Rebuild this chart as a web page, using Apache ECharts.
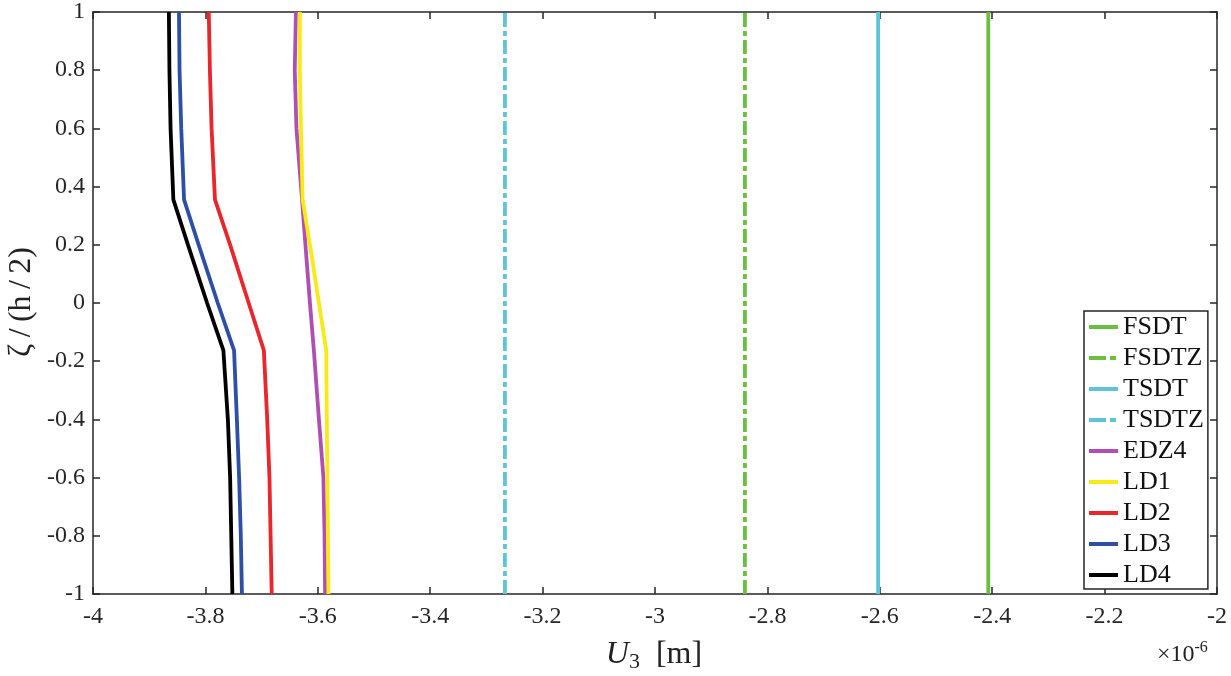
<!DOCTYPE html>
<html><head><meta charset="utf-8">
<script src="https://cdn.jsdelivr.net/npm/echarts@6/dist/echarts.min.js"></script>
<style>html,body{margin:0;padding:0;background:#fff}#c{width:1231px;height:676px}</style>
</head><body><div id="c"></div>
<script>
// x values are in units of 1e-6 m
const xTicks = [-4,-3.8,-3.6,-3.4,-3.2,-3,-2.8,-2.6,-2.4,-2.2,-2];
const yTicks = [-1,-0.8,-0.6,-0.4,-0.2,0,0.2,0.4,0.6,0.8,1];
const seriesNames = ['FSDT','FSDTZ','TSDT','TSDTZ','EDZ4','LD1','LD2','LD3','LD4'];
// constant-displacement models
const FSDT = -2.407;
const FSDTZ = -2.840;
const TSDT = -2.603;
const TSDTZ = -3.267;
// profile y positions (zeta / (h/2))
const zeta = [-1, -0.8, -0.6, -0.4, -0.163, 0, 0.2, 0.355, 0.6, 0.8, 1];
const EDZ4 = [-3.587, -3.588, -3.590, -3.598, -3.607, -3.614, -3.622, -3.628, -3.638, -3.641, -3.639];
const LD1  = [-3.581, -3.582, -3.583, -3.584, -3.585, -3.598, -3.614, -3.627, -3.630, -3.632, -3.632];
const LD2  = [-3.682, -3.684, -3.686, -3.690, -3.696, -3.723, -3.756, -3.783, -3.789, -3.792, -3.794];
const LD3  = [-3.735, -3.737, -3.740, -3.744, -3.749, -3.778, -3.812, -3.838, -3.843, -3.846, -3.847];
const LD4  = [-3.752, -3.754, -3.756, -3.760, -3.768, -3.797, -3.831, -3.857, -3.862, -3.864, -3.865];

const colors = {FSDT:'#6bbf3f',FSDTZ:'#6bbf3f',TSDT:'#5fc3da',TSDTZ:'#5fc3da',EDZ4:'#b04fb3',LD1:'#f7ea17',LD2:'#e8262b',LD3:'#2d4fa5',LD4:'#000000'};
const dashed = {FSDTZ:true, TSDTZ:true};
const dashDot = [14,4,5,4];

function vline(name, x){
  return {name, type:'line', data:[[x,-1],[x,1]], symbol:'none', silent:true,
    lineStyle:{color:colors[name], width:3.8, type: dashed[name]?dashDot:'solid'}, itemStyle:{color:colors[name]}};
}
function prof(name, xs){
  return {name, type:'line', data: xs.map((v,i)=>[v, zeta[i]]), symbol:'none', silent:true,
    lineStyle:{color:colors[name], width:3.8}, itemStyle:{color:colors[name]}};
}
const font = 'Liberation Serif';
const axCol = '#262626';
const chart = echarts.init(document.getElementById('c'));
const axisCommon = {axisLine:{onZero:false, lineStyle:{color:axCol,width:1.5}},
  axisTick:{inside:true,length:7,lineStyle:{color:axCol,width:1.5}}, splitLine:{show:false}};
chart.setOption({
  animation:false,
  grid:{left:93,right:14,top:11,bottom:82,containLabel:false},
  xAxis:[
    Object.assign({type:'value',min:-4,max:-2,interval:0.2,position:'bottom',
      axisLabel:{color:axCol,fontFamily:font,fontSize:24,margin:11}},axisCommon),
    Object.assign({type:'value',min:-4,max:-2,interval:0.2,position:'top',
      axisLabel:{show:false}},axisCommon)
  ],
  yAxis:[
    Object.assign({type:'value',min:-1,max:1,interval:0.2,position:'left',
      axisLabel:{color:axCol,fontFamily:font,fontSize:24,margin:8}},axisCommon),
    Object.assign({type:'value',min:-1,max:1,interval:0.2,position:'right',
      axisLabel:{show:false}},axisCommon)
  ],
  legend:{
    data: seriesNames.map(n => ({name:n, lineStyle:{width:4, color:colors[n], type: dashed[n]?[17,4,6,4]:'solid'}})),
    orient:'vertical', left:1084, top:311,
    padding:[3,4,1,3], itemGap:5, itemWidth:29, itemHeight:20,
    backgroundColor:'#fff', borderColor:axCol, borderWidth:1.5, borderRadius:0,
    itemStyle:{opacity:0},
    textStyle:{fontFamily:font,fontSize:26,lineHeight:26,color:'#111'},
    selectedMode:false
  },
  graphic:[
    {type:'text', x:654, y:655, style:{rich:{
        u:{fontFamily:font,fontStyle:'italic',fontSize:32,fill:'#222'},
        s:{fontFamily:font,fontSize:22,fill:'#222',padding:[14,0,0,0]},
        m:{fontFamily:font,fontSize:32,fill:'#222'}},
      text:'{u|U}{s|3}{m|  [m]}', align:'center', verticalAlign:'middle'}},
    {type:'text', x:1157, y:640, style:{rich:{
        a:{fontFamily:font,fontSize:24,fill:'#222'},
        b:{fontFamily:font,fontSize:16,fill:'#222',padding:[0,0,14,0]}},
      text:'{a|×10}{b|-6}'}},
    {type:'text', x:22, y:302, rotation:Math.PI/2, style:{text:'ζ\u2009/\u2009(h\u2009/\u20092)',
        fontFamily:font,fontSize:32,fill:'#222',align:'center',verticalAlign:'middle'}}
  ],
  series:[
    vline('FSDT',FSDT), vline('FSDTZ',FSDTZ), vline('TSDT',TSDT), vline('TSDTZ',TSDTZ),
    prof('EDZ4',EDZ4), prof('LD1',LD1), prof('LD2',LD2), prof('LD3',LD3), prof('LD4',LD4)
  ]
});
</script></body></html>
